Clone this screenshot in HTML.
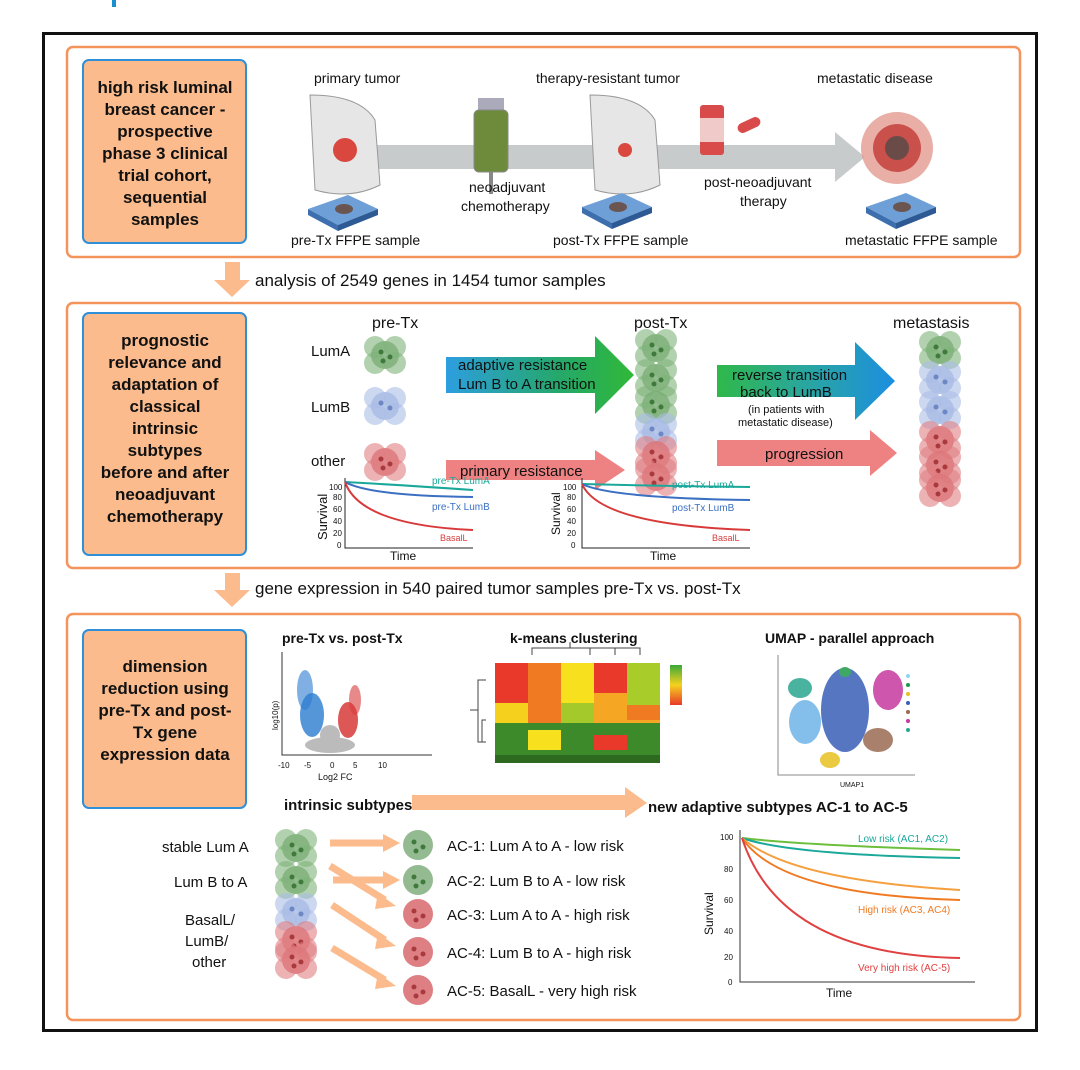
<!DOCTYPE html>
<html><head><meta charset="utf-8"><style>
html,body{margin:0;padding:0;background:#fff}
svg{display:block}
text{font-family:"Liberation Sans",sans-serif;fill:#111}
.lb{font-weight:bold;font-size:17px;text-anchor:middle}
.t{font-size:14px}
.s{font-size:11px}
</style></head><body>
<svg width="1080" height="1070" viewBox="0 0 1080 1070" xmlns="http://www.w3.org/2000/svg">
<defs>
<g id="cg"><circle r="14" cx="0" cy="0" fill="#6fa56b" opacity=".75"/><circle r="11" cx="-10" cy="-8" fill="#7fb27a" opacity=".6"/><circle r="11" cx="10" cy="8" fill="#7fb27a" opacity=".6"/><circle r="11" cx="10" cy="-8" fill="#7fb27a" opacity=".6"/><circle r="11" cx="-10" cy="8" fill="#7fb27a" opacity=".6"/><circle r="2.5" cx="-4" cy="-3" fill="#3f7a3c"/><circle r="2.5" cx="5" cy="2" fill="#3f7a3c"/><circle r="2.5" cx="-2" cy="6" fill="#3f7a3c"/></g>
<g id="cb"><circle r="14" fill="#9fb5e0" opacity=".75"/><circle r="11" cx="-10" cy="-8" fill="#aabde6" opacity=".6"/><circle r="11" cx="10" cy="8" fill="#aabde6" opacity=".6"/><circle r="11" cx="10" cy="-8" fill="#aabde6" opacity=".6"/><circle r="11" cx="-10" cy="8" fill="#aabde6" opacity=".6"/><circle r="2.5" cx="-4" cy="-3" fill="#6d86c4"/><circle r="2.5" cx="5" cy="2" fill="#6d86c4"/></g>
<g id="cr"><circle r="14" fill="#d86a6e" opacity=".8"/><circle r="11" cx="-10" cy="-8" fill="#e07f82" opacity=".6"/><circle r="11" cx="10" cy="8" fill="#e07f82" opacity=".6"/><circle r="11" cx="10" cy="-8" fill="#e07f82" opacity=".6"/><circle r="11" cx="-10" cy="8" fill="#e07f82" opacity=".6"/><circle r="2.5" cx="-4" cy="-3" fill="#a83a3e"/><circle r="2.5" cx="5" cy="2" fill="#a83a3e"/><circle r="2.5" cx="-2" cy="6" fill="#a83a3e"/></g>
<g id="sg"><circle r="15" fill="#78a974" opacity=".8"/><circle r="2.5" cx="-4" cy="-3" fill="#3f7a3c"/><circle r="2.5" cx="5" cy="2" fill="#3f7a3c"/><circle r="2.5" cx="-2" cy="6" fill="#3f7a3c"/></g>
<g id="sr"><circle r="15" fill="#d8696d" opacity=".85"/><circle r="2.5" cx="-4" cy="-3" fill="#a83a3e"/><circle r="2.5" cx="5" cy="2" fill="#a83a3e"/><circle r="2.5" cx="-2" cy="6" fill="#a83a3e"/></g>
<g id="slide"><path d="M0 14 L40 0 L70 14 L30 30 Z" fill="#6e9fd6"/><path d="M0 14 L30 30 L30 36 L0 20 Z" fill="#3d6fae"/><path d="M30 30 L70 14 L70 20 L30 36Z" fill="#2d5a94"/><ellipse cx="36" cy="14" rx="9" ry="5" fill="#6b5550"/></g>
</defs>
<rect x="112" y="0" width="4" height="7" fill="#1a8fd0"/>
<rect x="43.5" y="33.5" width="993" height="997" fill="none" stroke="#111" stroke-width="3"/>

<rect x="67" y="47" width="953" height="210" rx="6" fill="none" stroke="#f4935a" stroke-width="2.5"/>
<rect x="83" y="60" width="163" height="183" rx="6" fill="#fbbb8c" stroke="#2f8fd8" stroke-width="2"/>
<text class="lb"><tspan x="165" y="93">high risk luminal</tspan><tspan x="165" y="115">breast cancer -</tspan><tspan x="165" y="137">prospective</tspan><tspan x="165" y="159">phase 3 clinical</tspan><tspan x="165" y="181">trial cohort,</tspan><tspan x="165" y="203">sequential</tspan><tspan x="165" y="225">samples</tspan></text>
<path d="M370 145 L835 145 L835 132 L865 157 L835 182 L835 169 L370 169Z" fill="#c8cbcc"/>
<text class="t" x="314" y="83">primary tumor</text>
<text class="t" x="536" y="83">therapy-resistant tumor</text>
<text class="t" x="817" y="83">metastatic disease</text>
<path d="M310 95 Q360 95 375 120 L380 185 Q350 200 315 190 Z" fill="#e6e6e6" stroke="#999"/>
<circle cx="345" cy="150" r="12" fill="#d9473e"/>
<path d="M590 95 Q640 95 655 120 L660 185 Q630 200 595 190 Z" fill="#e6e6e6" stroke="#999"/>
<circle cx="625" cy="150" r="7" fill="#d9473e"/>
<rect x="478" y="98" width="26" height="12" fill="#aab" />
<rect x="474" y="110" width="34" height="62" rx="5" fill="#6d8b3b" stroke="#888"/>
<rect x="489" y="172" width="4" height="22" fill="#888"/>
<rect x="700" y="105" width="24" height="50" rx="3" fill="#d94b4b"/>
<rect x="700" y="118" width="24" height="24" fill="#f0c9c9"/>
<rect x="737" y="120" width="24" height="10" rx="5" fill="#d94b4b" transform="rotate(-25 749 125)"/>
<circle cx="897" cy="148" r="36" fill="#e49a8f" opacity=".8"/>
<circle cx="897" cy="148" r="24" fill="#c9504b"/>
<circle cx="897" cy="148" r="12" fill="#6b4b47"/>
<use href="#slide" x="308" y="195"/>
<use href="#slide" x="582" y="193"/>
<use href="#slide" x="866" y="193"/>
<text class="t" x="291" y="245">pre-Tx FFPE sample</text>
<text class="t" x="469" y="192">neoadjuvant</text>
<text class="t" x="461" y="211">chemotherapy</text>
<text class="t" x="553" y="245">post-Tx FFPE sample</text>
<text class="t" x="704" y="187">post-neoadjuvant</text>
<text class="t" x="740" y="206">therapy</text>
<text class="t" x="845" y="245">metastatic FFPE sample</text>

<path d="M225 262 L240 262 L240 280 L250 280 L232 297 L214 280 L225 280Z" fill="#fbbb8c"/>
<text x="255" y="286" style="font-size:17px">analysis of 2549 genes in 1454 tumor samples</text>

<rect x="67" y="303" width="953" height="265" rx="6" fill="none" stroke="#f4935a" stroke-width="2.5"/>
<rect x="83" y="313" width="163" height="242" rx="6" fill="#fbbb8c" stroke="#2f8fd8" stroke-width="2"/>
<text class="lb"><tspan x="165" y="346">prognostic</tspan><tspan x="165" y="368">relevance and</tspan><tspan x="165" y="390">adaptation of</tspan><tspan x="165" y="412">classical</tspan><tspan x="165" y="434">intrinsic</tspan><tspan x="165" y="456">subtypes</tspan><tspan x="165" y="478">before and after</tspan><tspan x="165" y="500">neoadjuvant</tspan><tspan x="165" y="522">chemotherapy</tspan></text>
<text x="372" y="328" style="font-size:16px">pre-Tx</text>
<text x="634" y="328" style="font-size:16px">post-Tx</text>
<text x="893" y="328" style="font-size:16px">metastasis</text>
<text class="t" x="311" y="356" style="font-size:15px">LumA</text>
<text class="t" x="311" y="412" style="font-size:15px">LumB</text>
<text class="t" x="311" y="466" style="font-size:15px">other</text>
<use href="#cg" x="385" y="355"/><use href="#cb" x="385" y="406"/><use href="#cr" x="385" y="462"/>
<use href="#cg" x="656" y="348"/><use href="#cg" x="656" y="378"/><use href="#cg" x="656" y="405"/><use href="#cb" x="656" y="432"/><use href="#cr" x="656" y="455"/><use href="#cr" x="656" y="477"/>
<use href="#cg" x="940" y="350"/><use href="#cb" x="940" y="380"/><use href="#cb" x="940" y="410"/><use href="#cr" x="940" y="440"/><use href="#cr" x="940" y="465"/><use href="#cr" x="940" y="488"/>
<defs><linearGradient id="g1" x1="0" x2="1"><stop offset="0" stop-color="#2d9ee0"/><stop offset=".6" stop-color="#25a86a"/><stop offset="1" stop-color="#30b838"/></linearGradient>
<linearGradient id="g2" x1="0" x2="1"><stop offset="0" stop-color="#2fb84a"/><stop offset=".5" stop-color="#2aa6a0"/><stop offset="1" stop-color="#1c8ee0"/></linearGradient></defs>
<path d="M446 357 L595 357 L595 336 L634 375 L595 414 L595 393 L446 393Z" fill="url(#g1)"/>
<text class="t" x="458" y="370" style="font-size:15px">adaptive resistance</text>
<text class="t" x="458" y="389" style="font-size:15px">Lum B to A transition</text>
<path d="M717 365 L855 365 L855 342 L895 381 L855 420 L855 397 L717 397Z" fill="url(#g2)"/>
<text class="t" x="732" y="380" style="font-size:15px">reverse transition</text>
<text class="t" x="740" y="397" style="font-size:15px">back to LumB</text>
<text x="748" y="413" style="font-size:11px">(in patients with</text>
<text x="738" y="426" style="font-size:11px">metastatic disease)</text>
<path d="M446 460 L595 460 L595 450 L625 470 L595 490 L595 480 L446 480Z" fill="#ee8282"/>
<text class="t" x="460" y="476" style="font-size:15px">primary resistance</text>
<path d="M717 440 L870 440 L870 430 L897 453 L870 476 L870 466 L717 466Z" fill="#ee8282"/>
<text class="t" x="765" y="459" style="font-size:15px">progression</text>
<g>
<path d="M345 478 L345 548 L473 548" fill="none" stroke="#222"/>
<path d="M345 482 Q400 485 473 490" fill="none" stroke="#1aa89a" stroke-width="2"/>
<path d="M345 482 Q370 496 473 497" fill="none" stroke="#3a6fc2" stroke-width="2"/>
<path d="M345 482 Q360 525 473 530" fill="none" stroke="#d83a3a" stroke-width="2"/>
<text x="432" y="484" style="font-size:10px;fill:#1aa89a">pre-Tx LumA</text>
<text x="432" y="510" style="font-size:10px;fill:#3a6fc2">pre-Tx LumB</text>
<text x="440" y="541" style="font-size:9px;fill:#d83a3a">BasalL</text>
<text x="390" y="560" style="font-size:12px">Time</text>
<text x="327" y="540" transform="rotate(-90 327 540)" style="font-size:13px">Survival</text>
</g>
<text x="329" y="490" style="font-size:8px">100</text><text x="333" y="500" style="font-size:8px">80</text><text x="333" y="512" style="font-size:8px">60</text><text x="333" y="524" style="font-size:8px">40</text><text x="333" y="536" style="font-size:8px">20</text><text x="337" y="548" style="font-size:8px">0</text>
<g>
<path d="M582 478 L582 548 L750 548" fill="none" stroke="#222"/>
<text x="563" y="490" style="font-size:8px">100</text><text x="567" y="500" style="font-size:8px">80</text><text x="567" y="512" style="font-size:8px">60</text><text x="567" y="524" style="font-size:8px">40</text><text x="567" y="536" style="font-size:8px">20</text><text x="571" y="548" style="font-size:8px">0</text>
<path d="M582 484 Q660 486 750 487" fill="none" stroke="#1aa89a" stroke-width="2"/>
<path d="M582 484 Q610 498 750 500" fill="none" stroke="#3a6fc2" stroke-width="2"/>
<path d="M582 484 Q600 525 750 530" fill="none" stroke="#d83a3a" stroke-width="2"/>
<text x="672" y="488" style="font-size:10px;fill:#1aa89a">post-Tx LumA</text>
<text x="672" y="511" style="font-size:10px;fill:#3a6fc2">post-Tx LumB</text>
<text x="712" y="541" style="font-size:9px;fill:#d83a3a">BasalL</text>
<text x="650" y="560" style="font-size:12px">Time</text>
<text x="560" y="535" transform="rotate(-90 560 535)" style="font-size:12px">Survival</text>
</g>

<path d="M225 573 L240 573 L240 590 L250 590 L232 607 L214 590 L225 590Z" fill="#fbbb8c"/>
<text x="255" y="594" style="font-size:17px">gene expression in 540 paired tumor samples pre-Tx vs. post-Tx</text>

<rect x="67" y="614" width="953" height="406" rx="6" fill="none" stroke="#f4935a" stroke-width="2.5"/>
<rect x="83" y="630" width="163" height="178" rx="6" fill="#fbbb8c" stroke="#2f8fd8" stroke-width="2"/>
<text class="lb"><tspan x="165" y="672">dimension</tspan><tspan x="165" y="694">reduction using</tspan><tspan x="165" y="716">pre-Tx and post-</tspan><tspan x="165" y="738">Tx gene</tspan><tspan x="165" y="760">expression data</tspan></text>
<text x="282" y="643" style="font-size:14px;font-weight:bold">pre-Tx vs. post-Tx</text>
<text x="510" y="643" style="font-size:14px;font-weight:bold">k-means clustering</text>
<text x="765" y="643" style="font-size:14px;font-weight:bold">UMAP - parallel approach</text>
<path d="M282 652 L282 755 L432 755" fill="none" stroke="#333"/>
<g fill="#bbb"><ellipse cx="330" cy="745" rx="25" ry="8"/><ellipse cx="330" cy="735" rx="10" ry="10"/></g>
<g fill="#2b7cd0"><ellipse cx="312" cy="715" rx="12" ry="22" opacity=".8"/><ellipse cx="305" cy="690" rx="8" ry="20" opacity=".6"/></g>
<g fill="#d83a3a"><ellipse cx="348" cy="720" rx="10" ry="18" opacity=".85"/><ellipse cx="355" cy="700" rx="6" ry="15" opacity=".6"/></g>
<text x="278" y="768" style="font-size:8px">-10</text><text x="304" y="768" style="font-size:8px">-5</text><text x="330" y="768" style="font-size:8px">0</text><text x="353" y="768" style="font-size:8px">5</text><text x="378" y="768" style="font-size:8px">10</text>
<text x="318" y="780" style="font-size:9px">Log2 FC</text>
<text x="278" y="730" transform="rotate(-90 278 730)" style="font-size:8px">log10(p)</text>
<path d="M532 655 L532 648 L615 648 L615 655 M570 648 L570 642 M590 655 L590 648 M640 655 L640 648 L590 648" fill="none" stroke="#444"/>
<path d="M486 680 L478 680 L478 742 L486 742 M478 710 L470 710 M486 720 L482 720 L482 742" fill="none" stroke="#444"/>
<g>
<rect x="495" y="663" width="165" height="100" fill="#f5a623"/>
<rect x="495" y="663" width="33" height="100" fill="#e8392a"/>
<rect x="528" y="663" width="33" height="60" fill="#f07a22"/>
<rect x="561" y="663" width="33" height="40" fill="#f7e11e"/>
<rect x="594" y="663" width="33" height="30" fill="#e8392a"/>
<rect x="627" y="663" width="33" height="50" fill="#a8cc2a"/>
<rect x="495" y="723" width="165" height="40" fill="#3d8a2a"/>
<rect x="528" y="730" width="33" height="20" fill="#f7e11e"/>
<rect x="594" y="735" width="33" height="15" fill="#e8392a"/>
<rect x="627" y="705" width="33" height="15" fill="#f07a22"/>
<rect x="495" y="703" width="33" height="20" fill="#f5d11e"/>
<rect x="561" y="703" width="33" height="20" fill="#a3c92a"/>
<rect x="495" y="755" width="165" height="8" fill="#2d6a20"/>
</g>
<defs><linearGradient id="lg" x1="0" y1="0" x2="0" y2="1"><stop offset="0" stop-color="#3aaa3a"/><stop offset=".5" stop-color="#f5d11e"/><stop offset="1" stop-color="#e8392a"/></linearGradient></defs>
<rect x="670" y="665" width="12" height="40" fill="url(#lg)"/>
<path d="M778 655 L778 775 L915 775" fill="none" stroke="#888"/>
<g opacity=".85"><ellipse cx="800" cy="688" rx="12" ry="10" fill="#2aa690"/><ellipse cx="805" cy="722" rx="16" ry="22" fill="#6fb5e8"/><ellipse cx="845" cy="710" rx="24" ry="42" fill="#3a5fb8"/><ellipse cx="888" cy="690" rx="15" ry="20" fill="#c6399e"/><ellipse cx="878" cy="740" rx="15" ry="12" fill="#9b6a52"/><ellipse cx="830" cy="760" rx="10" ry="8" fill="#e8c020"/><ellipse cx="845" cy="672" rx="6" ry="5" fill="#1d9a4a"/></g>
<g><circle cx="908" cy="676" r="2" fill="#8fd4f0"/><circle cx="908" cy="685" r="2" fill="#1d9a4a"/><circle cx="908" cy="694" r="2" fill="#e8c020"/><circle cx="908" cy="703" r="2" fill="#3a5fb8"/><circle cx="908" cy="712" r="2" fill="#9b6a52"/><circle cx="908" cy="721" r="2" fill="#c6399e"/><circle cx="908" cy="730" r="2" fill="#2aa690"/></g>
<text x="840" y="787" style="font-size:7px">UMAP1</text>
<text x="284" y="810" style="font-size:15px;font-weight:bold">intrinsic subtypes</text>
<path d="M412 795 L625 795 L625 787 L647 803 L625 818 L625 810 L412 810Z" fill="#fbbb8c"/>
<text x="648" y="812" style="font-size:15px;font-weight:bold">new adaptive subtypes AC-1 to AC-5</text>
<text class="t" x="162" y="852" style="font-size:15px">stable  Lum A</text>
<text class="t" x="174" y="887" style="font-size:15px">Lum B to A</text>
<text class="t" x="185" y="925" style="font-size:15px">BasalL/</text>
<text class="t" x="185" y="946" style="font-size:15px">LumB/</text>
<text class="t" x="192" y="967" style="font-size:15px">other</text>
<use href="#cg" x="296" y="848"/><use href="#cg" x="296" y="880"/><use href="#cb" x="296" y="912"/><use href="#cr" x="296" y="940"/><use href="#cr" x="296" y="960"/>
<g fill="none" stroke="#fbbb8c" stroke-width="7">
<path d="M330 843 L385 843"/><path d="M333 880 L385 880"/><path d="M330 866 L385 900"/><path d="M332 905 L385 940"/><path d="M332 948 L385 980"/>
</g>
<g fill="#fbbb8c">
<path d="M383 834 L400 843 L383 852Z"/><path d="M383 871 L400 880 L383 889Z"/><path d="M378 893 L396 906 L375 909Z"/><path d="M378 933 L396 946 L375 949Z"/><path d="M378 973 L396 986 L375 989Z"/>
</g>
<use href="#sg" x="418" y="845"/><use href="#sg" x="418" y="880"/><use href="#sr" x="418" y="914"/><use href="#sr" x="418" y="952"/><use href="#sr" x="418" y="990"/>
<g style="font-size:15px"><text x="447" y="851">AC-1: Lum A to A - low risk</text><text x="447" y="886">AC-2: Lum B to A - low risk</text><text x="447" y="920">AC-3: Lum A to A - high risk</text><text x="447" y="958">AC-4: Lum B to A - high risk</text><text x="447" y="996">AC-5: BasalL - very high risk</text></g>
<path d="M740 830 L740 982 L975 982" fill="none" stroke="#333"/>
<g style="font-size:8px"><text x="720" y="840">100</text><text x="724" y="872">80</text><text x="724" y="903">60</text><text x="724" y="934">40</text><text x="724" y="960">20</text><text x="728" y="985">0</text></g>
<path d="M742 838 Q800 845 960 850" fill="none" stroke="#6cbf3c" stroke-width="2"/>
<path d="M742 838 Q790 855 960 858" fill="none" stroke="#1aa89a" stroke-width="2"/>
<path d="M742 838 Q790 880 960 890" fill="none" stroke="#f5a040" stroke-width="2"/>
<path d="M742 838 Q780 895 960 900" fill="none" stroke="#f07a22" stroke-width="2"/>
<path d="M742 838 Q780 955 960 958" fill="none" stroke="#e04040" stroke-width="2"/>
<text x="858" y="842" style="font-size:10px;fill:#1aa89a">Low risk (AC1, AC2)</text>
<text x="858" y="913" style="font-size:10px;fill:#f07a22">High risk (AC3, AC4)</text>
<text x="858" y="971" style="font-size:10px;fill:#e04040">Very high risk (AC-5)</text>
<text x="826" y="997" style="font-size:12px">Time</text>
<text x="713" y="935" transform="rotate(-90 713 935)" style="font-size:12px">Survival</text>
</svg>
</body></html>
